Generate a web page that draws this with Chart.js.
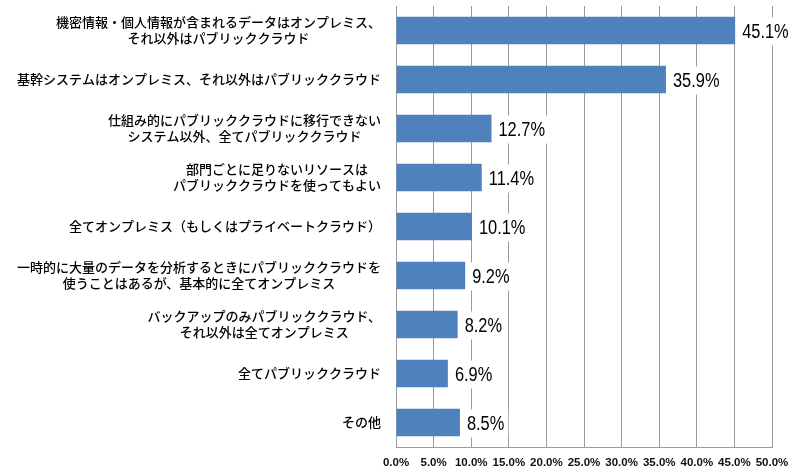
<!DOCTYPE html>
<html>
<head>
<meta charset="utf-8">
<script src="https://cdn.jsdelivr.net/npm/chart.js@4"></script>
<style>
html,body{margin:0;padding:0;background:#fff;}
#wrap{width:800px;height:475px;}
</style>
</head>
<body>
<div id="wrap"><canvas id="c" width="800" height="475"></canvas></div>
<script>
// ---- data ----
const categories = [
  ["機密情報・個人情報が含まれるデータはオンプレミス、", "それ以外はパブリッククラウド"],
  ["基幹システムはオンプレミス、それ以外はパブリッククラウド"],
  ["仕組み的にパブリッククラウドに移行できない", "システム以外、全てパブリッククラウド"],
  ["部門ごとに足りないリソースは", "パブリッククラウドを使ってもよい"],
  ["全てオンプレミス（もしくはプライベートクラウド）"],
  ["一時的に大量のデータを分析するときにパブリッククラウドを", "使うことはあるが、基本的に全てオンプレミス"],
  ["バックアップのみパブリッククラウド、", "それ以外は全てオンプレミス"],
  ["全てパブリッククラウド"],
  ["その他"]
];
const values = [45.1, 35.9, 12.7, 11.4, 10.1, 9.2, 8.2, 6.9, 8.5];
const xMin = 0;
const xMax = 50;
const xStep = 5;

const CAT_FONT = '500 13px "Noto Sans CJK JP", sans-serif';
const VAL_FONT = '20px "Liberation Sans", Arial, sans-serif';
const NARROW = 0.82;

const categoryLabelPlugin = {
  id: 'categoryLabels',
  afterDraw(chart) {
    const ctx = chart.ctx;
    const yScale = chart.scales.y;
    const right = chart.chartArea.left - 15;
    const lineH = 16;
    ctx.save();
    ctx.font = CAT_FONT;
    ctx.fillStyle = '#000';
    ctx.textBaseline = 'middle';
    ctx.textAlign = 'center';
    categories.forEach((lines, i) => {
      const yc = yScale.getPixelForTick(i);
      let w = 0;
      lines.forEach(l => { w = Math.max(w, ctx.measureText(l).width); });
      const cx = right - w / 2;
      const y0 = yc - (lines.length - 1) * lineH / 2;
      lines.forEach((l, k) => ctx.fillText(l, cx, y0 + k * lineH));
    });
    ctx.restore();
  }
};

const valueLabelPlugin = {
  id: 'valueLabels',
  afterDatasetsDraw(chart) {
    const ctx = chart.ctx;
    const meta = chart.getDatasetMeta(0);
    ctx.save();
    ctx.font = VAL_FONT;
    ctx.textBaseline = 'middle';
    ctx.textAlign = 'left';
    meta.data.forEach((bar, i) => {
      const txt = values[i].toFixed(1) + '%';
      const w = ctx.measureText(txt).width * NARROW;
      const x = bar.x + 7;
      const y = bar.y + 2;
      ctx.fillStyle = '#fff';
      ctx.fillRect(bar.x + 3, bar.y - 13, w + 8, 28);
      ctx.fillStyle = '#000';
      ctx.save();
      ctx.translate(x, y);
      ctx.scale(NARROW, 1);
      ctx.fillText(txt, 0, 0);
      ctx.restore();
    });
    ctx.restore();
  }
};

new Chart(document.getElementById('c'), {
  type: 'bar',
  data: {
    labels: categories,
    datasets: [{
      data: values,
      backgroundColor: '#4F81BD',
      borderWidth: 0,
      categoryPercentage: 1.0,
      barPercentage: 0.56
    }]
  },
  options: {
    indexAxis: 'y',
    responsive: false,
    animation: false,
    devicePixelRatio: 1,
    layout: { padding: { top: 6, right: 28, bottom: 0, left: 0 } },
    plugins: {
      legend: { display: false },
      tooltip: { enabled: false }
    },
    scales: {
      x: {
        min: xMin,
        max: xMax,
        ticks: {
          stepSize: xStep,
          padding: 9,
          maxRotation: 0,
          minRotation: 0,
          autoSkip: false,
          color: '#111',
          font: { family: '"Liberation Sans", Arial, sans-serif', size: 11.5, weight: 'bold' },
          callback: v => v.toFixed(1) + '%'
        },
        grid: { color: '#9a9a9a', lineWidth: 1, drawTicks: false },
        border: { display: true, color: '#9a9a9a', width: 1 },
        afterFit(scale) { scale.height = 28; }
      },
      y: {
        ticks: { display: false },
        grid: { display: false },
        border: { display: false },
        afterFit(scale) { scale.width = 396; }
      }
    }
  },
  plugins: [categoryLabelPlugin, valueLabelPlugin]
});
</script>
</body>
</html>
